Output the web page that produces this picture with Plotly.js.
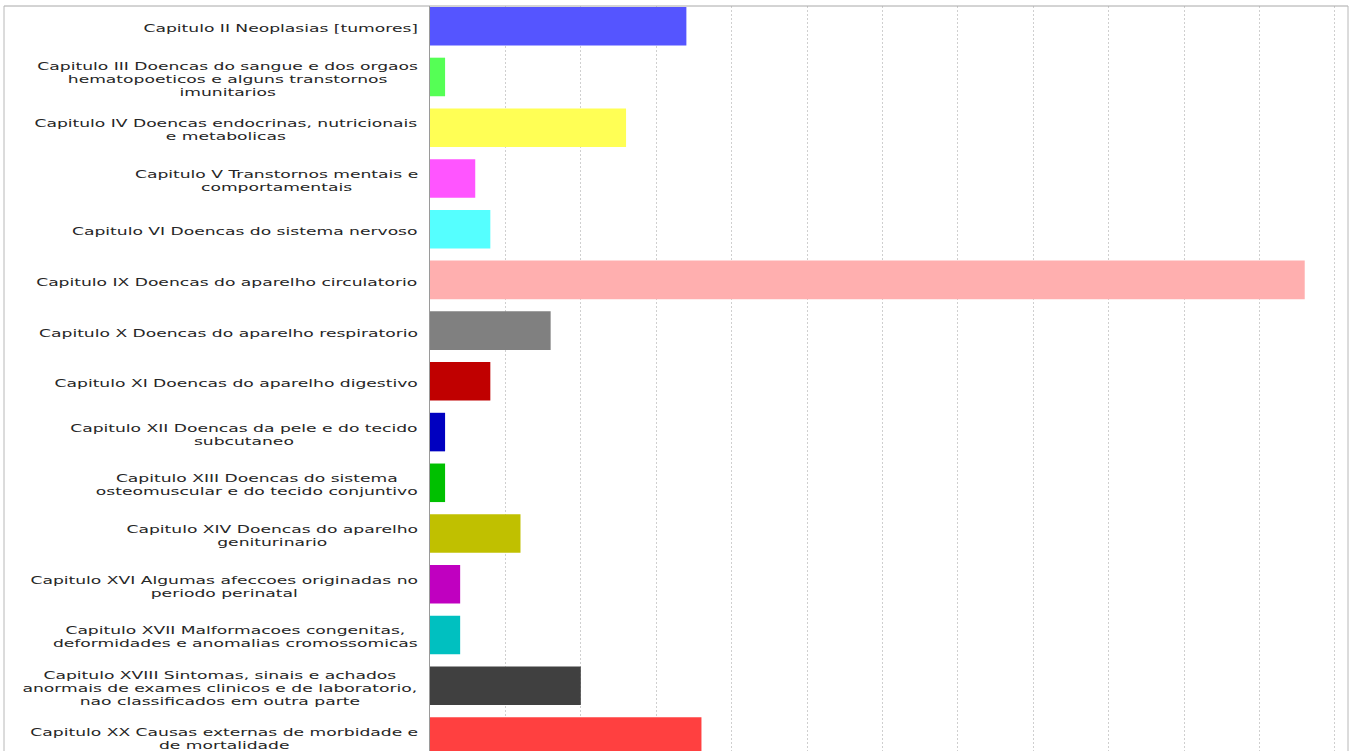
<!DOCTYPE html>
<html>
<head>
<meta charset="utf-8">
<script src="https://cdn.plot.ly/plotly-3.0.1.min.js"></script>
<style>
  html, body { margin: 0; padding: 0; background: #ffffff; }
  #chart { width: 1357px; height: 751px; }
</style>
</head>
<body>
<div id="chart"></div>
<script>
// Chapter labels (categories), top to bottom
var chapters = [
  "Capitulo II Neoplasias [tumores]",
  "Capitulo III Doencas do sangue e dos orgaos<br>hematopoeticos e alguns transtornos<br>imunitarios",
  "Capitulo IV Doencas endocrinas, nutricionais<br>e metabolicas",
  "Capitulo V Transtornos mentais e<br>comportamentais",
  "Capitulo VI Doencas do sistema nervoso",
  "Capitulo IX Doencas do aparelho circulatorio",
  "Capitulo X Doencas do aparelho respiratorio",
  "Capitulo XI Doencas do aparelho digestivo",
  "Capitulo XII Doencas da pele e do tecido<br>subcutaneo",
  "Capitulo XIII Doencas do sistema<br>osteomuscular e do tecido conjuntivo",
  "Capitulo XIV Doencas do aparelho<br>geniturinario",
  "Capitulo XVI Algumas afeccoes originadas no<br>periodo perinatal",
  "Capitulo XVII Malformacoes congenitas,<br>deformidades e anomalias cromossomicas",
  "Capitulo XVIII Sintomas, sinais e achados<br>anormais de exames clinicos e de laboratorio,<br>nao classificados em outra parte",
  "Capitulo XX Causas externas de morbidade e<br>de mortalidade"
];

// Values
var counts = [17, 1, 13, 3, 4, 58, 8, 4, 1, 1, 6, 2, 2, 10, 18];

// Bar colours
var barColors = [
  "#5555ff", "#55ff55", "#ffff55", "#ff55ff", "#55ffff",
  "#ffafaf", "#808080", "#c00000", "#0000c0", "#00c000",
  "#c0c000", "#c000c0", "#00c0c0", "#404040", "#ff4040"
];

var W = 1357, H = 751;
var mL = 430, mR = 9, mT = 6, mB = 0;
var plotW = W - mL - mR;

var trace = {
  type: "bar",
  orientation: "h",
  x: counts,
  y: chapters,
  marker: { color: barColors, line: { width: 0 } },
  hoverinfo: "x+y"
};

var annotations = chapters.map(function (c) {
  return {
    xref: "paper", yref: "y",
    x: -10 / plotW, y: c,
    xanchor: "right", yanchor: "middle",
    align: "center",
    yshift: -2.5,
    text: c,
    showarrow: false,
    font: { family: "DejaVu Sans, Verdana, sans-serif", size: 10, color: "#262626" }
  };
});

var layout = {
  width: W, height: H,
  margin: { l: mL, r: mR, t: mT, b: mB, pad: 0 },
  paper_bgcolor: "#ffffff",
  plot_bgcolor: "#ffffff",
  showlegend: false,
  bargap: 0.24,
  xaxis: {
    range: [0, 60.87],
    tick0: 0, dtick: 5,
    showgrid: true, gridcolor: "#cfcfcf", gridwidth: 1, griddash: "2px,2px",
    zeroline: false, showline: false,
    showticklabels: false, ticks: "",
    automargin: false, fixedrange: true
  },
  yaxis: {
    type: "category",
    range: [14.287, -0.399],
    showgrid: false, zeroline: false,
    showline: true, linecolor: "#9a9a9a", linewidth: 1,
    showticklabels: false, ticks: "",
    automargin: false, fixedrange: true
  },
  annotations: annotations,
  shapes: [
    { type: "line", xref: "paper", yref: "paper", x0: (4 - mL) / plotW, x1: 1, y0: 1, y1: 1,
      line: { color: "#a8a8a8", width: 1 } },
    { type: "line", xref: "paper", yref: "paper", x0: (4 - mL) / plotW, x1: (4 - mL) / plotW, y0: -0.01, y1: 1,
      line: { color: "#b8b8b8", width: 1 } },
    { type: "line", xref: "paper", yref: "paper", x0: 1, x1: 1, y0: -0.01, y1: 1,
      line: { color: "#b8b8b8", width: 1 } }
  ]
};

function stretchLabels(gd) {
  var texts = gd.querySelectorAll("text.annotation-text");
  texts.forEach(function (t) {
    t.removeAttribute("transform");
    var bb = t.getBBox();
    var R = bb.x + bb.width;
    t.setAttribute("transform", "translate(" + R + ",0) scale(1.715,1) translate(" + (-R) + ",0)");
  });
}

Plotly.newPlot("chart", [trace], layout, { displayModeBar: false, staticPlot: true }).then(function (gd) {
  stretchLabels(gd);
});
</script>
</body>
</html>
